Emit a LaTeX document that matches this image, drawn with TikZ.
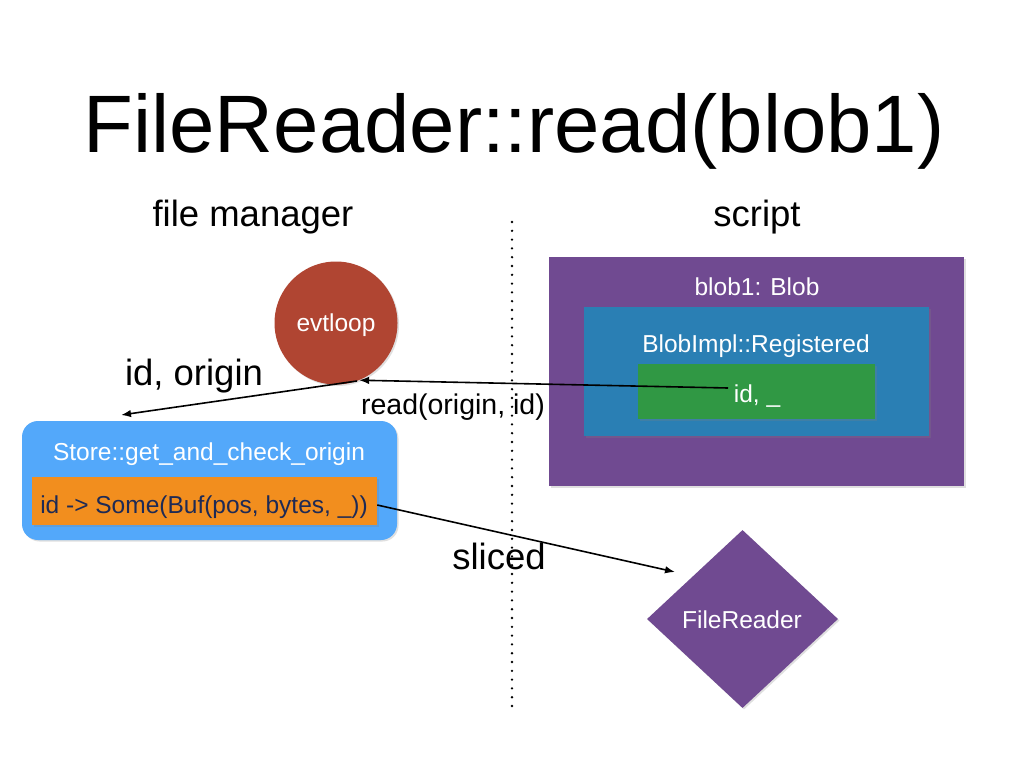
\documentclass[tikz,border=0pt]{standalone}
\usepackage{fontspec}
\setmainfont{Liberation Sans}
\usetikzlibrary{arrows.meta,shapes.geometric,shadows}
\definecolor{evtred}{RGB}{176,69,50}
\definecolor{blobpurple}{RGB}{112,74,145}
\definecolor{implblue}{RGB}{42,127,180}
\definecolor{idgreen}{RGB}{48,152,68}
\definecolor{storeblue}{RGB}{83,168,250}
\definecolor{buforange}{RGB}{242,142,30}
\definecolor{bufnavy}{RGB}{30,42,85}
\newcommand{\myfs}[1]{\fontsize{#1}{#1}\selectfont}
\begin{document}
\begin{tikzpicture}[x=1pt,y=-1pt,
  shade box/.style={draw=none, inner sep=0pt, drop shadow={opacity=0.25, shadow xshift=1.5pt, shadow yshift=-1.5pt}},
  inlabel/.style={anchor=base, inner sep=0pt, text=white, font=\myfs{24.5}},
  biglabel/.style={anchor=base, inner sep=0pt, font=\myfs{36.5}},
  conn/.style={line width=1.6pt, -{Latex[length=10pt,width=7.5pt]}}]
\useasboundingbox[fill=white] (0,0) rectangle (1024,768);

% title
\node[anchor=base, inner sep=0pt, font=\myfs{81.5}] (title) at (514,152) {FileReader::read(blob1)};
\node[biglabel] (fm) at (253,226) {file manager};
\node[biglabel] (sc) at (757,226) {script};

% divider
\coordinate (dtop) at (512,222);
\coordinate (dbot) at (512,710);
\draw[line width=2.6pt, line cap=round, dash pattern=on 0pt off 8.8pt] (dtop) -- (dbot);

% script side
\node[shade box, fill=blobpurple, minimum width=415pt, minimum height=229pt] (blob) at (756.5,371.5) {};
\node[inlabel] (blobtxt) at (757,295) {blob1: Blob};
\node[shade box, fill=implblue, minimum width=345pt, minimum height=129pt] (impl) at (756.5,371.5) {};
\node[inlabel] (impltxt) at (756,352.5) {BlobImpl::Registered};
\node[shade box, fill=idgreen, minimum width=237pt, minimum height=55pt] (idbox) at (756.5,391.5) {};
\node[inlabel] (idtxt) at (757,402) {id, \_};

% evtloop
\node[circle, shade box, fill=evtred, minimum size=123pt] (evt) at (336,323) {};
\node[inlabel] (evttxt) at (336,331.5) {evtloop};

% store
\node[shade box, fill=storeblue, rounded corners=16pt, minimum width=375pt, minimum height=119pt] (store) at (209.5,480.5) {};
\node[inlabel] (storetxt) at (209,460) {Store::get\_and\_check\_origin};
\node[shade box, fill=buforange, minimum width=345pt, minimum height=48pt] (buf) at (204.5,501) {};
\node[inlabel, text=bufnavy] (buftxt) at (204,513) {id -> Some(Buf(pos, bytes, \_))};

% FileReader diamond
\node[diamond, shade box, fill=blobpurple, minimum width=191pt, minimum height=178pt, aspect=1.07] (fr) at (742.5,619) {};
\node[inlabel] (frtxt) at (742,628) {FileReader};

% connectors
\coordinate (idstart) at (728,388);
\draw[conn] (idstart) -- (evt.-68);
\node[anchor=base, inner sep=0pt, font=\myfs{28.5}] (readlbl) at (453,414) {read(origin, id)};

\coordinate (storetip) at (121,415);
\draw[conn] (evt.-70) -- (storetip);
\node[biglabel] (idorigin) at (194,385) {id, origin};

\coordinate (frtip) at (675,572);
\draw[conn] ([yshift=-4pt]buf.east) -- (frtip);
\node[biglabel] (sliced) at (499,569) {sliced};
\end{tikzpicture}
\end{document}
